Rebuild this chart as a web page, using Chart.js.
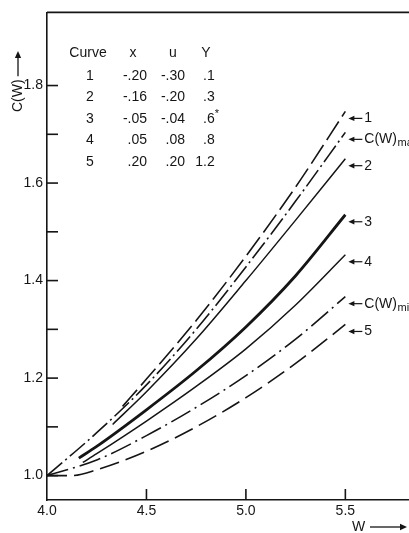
<!DOCTYPE html>
<html>
<head>
<meta charset="utf-8">
<title>C(W) versus W</title>
<script src="https://cdn.jsdelivr.net/npm/chart.js@4.4.1/dist/chart.umd.min.js"></script>
<style>
  html, body { margin: 0; padding: 0; background: #ffffff; }
</style>
</head>
<body>
<canvas id="myChart" width="409" height="533"></canvas>
<script>
"use strict";

/* ****************************************************************************
    DATA
**************************************************************************** */
var curveNames = ["1", "C(W)max", "2", "3", "4", "C(W)min", "5"];

var w1 = [4.38, 4.5, 4.75, 5.0, 5.25, 5.5];
var c1 = [1.142, 1.198, 1.318, 1.45, 1.592, 1.747];

var wMax = [4.0, 4.25, 4.5, 4.75, 5.0, 5.25, 5.5];
var cMax = [1.0, 1.088, 1.186, 1.3, 1.428, 1.563, 1.704];

var w2 = [4.33, 4.5, 4.75, 5.0, 5.25, 5.5];
var c2 = [1.105, 1.172, 1.28, 1.4, 1.524, 1.65];

var w3 = [4.16, 4.25, 4.5, 4.75, 5.0, 5.25, 5.5];
var c3 = [1.036, 1.06, 1.135, 1.215, 1.305, 1.41, 1.535];

var w4 = [4.18, 4.25, 4.5, 4.75, 5.0, 5.25, 5.5];
var c4 = [1.027, 1.045, 1.112, 1.183, 1.26, 1.35, 1.453];

var wMin = [4.0, 4.25, 4.5, 4.75, 5.0, 5.25, 5.5];
var cMin = [1.0, 1.032, 1.082, 1.14, 1.205, 1.28, 1.367];

var w5 = [4.0, 4.12, 4.25, 4.5, 4.75, 5.0, 5.25, 5.5];
var c5 = [1.0, 1.0, 1.012, 1.05, 1.1, 1.16, 1.23, 1.31];

// axis ticks
var xTicks = [4.0, 4.5, 5.0, 5.5];
var yLabelTicks = [1.0, 1.2, 1.4, 1.6, 1.8];
var yMinorTicks = [1.1, 1.3, 1.5, 1.7];

// parameter table in the upper left
var tableHeader = ["Curve", "x", "u", "Y"];
var tableCurve = ["1", "2", "3", "4", "5"];
var tableX = ["-.20", "-.16", "-.05", ".05", ".20"];
var tableU = ["-.30", "-.20", "-.04", ".08", ".20"];
var tableY = [".1", ".3", ".6*", ".8", "1.2"];

/* ****************************************************************************
    STYLE
**************************************************************************** */
var ink = "#151515";
var fontFamily = "'Liberation Sans', Arial, sans-serif";

// one style per curve, same order as curveNames
var curveStyles = [
  { width: 1.6, dash: [22, 6] },
  { width: 1.6, dash: [20, 4, 2, 4] },
  { width: 1.5, dash: [] },
  { width: 2.8, dash: [] },
  { width: 1.5, dash: [] },
  { width: 1.6, dash: [22, 5, 2, 5] },
  { width: 1.6, dash: [20, 7] },
];

/* ****************************************************************************
    HELPERS
**************************************************************************** */

/**
 * Zip W and C arrays into {x, y} points.
 */
function toPoints(ws, cs) {
  return ws.map(function (w, i) {
    return { x: w, y: cs[i] };
  });
}

function strokeLine(ctx, x1, y1, x2, y2) {
  ctx.beginPath();
  ctx.moveTo(x1, y1);
  ctx.lineTo(x2, y2);
  ctx.stroke();
}

function arrowHead(ctx, x, y, angle, size) {
  ctx.save();
  ctx.translate(x, y);
  ctx.rotate(angle);
  ctx.beginPath();
  ctx.moveTo(0, 0);
  ctx.lineTo(-size, -size * 0.45);
  ctx.lineTo(-size, size * 0.45);
  ctx.closePath();
  ctx.fill();
  ctx.restore();
}

/**
 * Draw "C(W)" with an optional subscript ("max" / "min").
 */
function drawName(ctx, name, x, y) {
  var sub = "";
  var main = name;
  if (name.indexOf("C(W)") === 0 && name.length > 4) {
    main = "C(W)";
    sub = name.slice(4);
  }
  ctx.font = "14px " + fontFamily;
  ctx.textAlign = "left";
  ctx.textBaseline = "middle";
  ctx.fillText(main, x, y);
  if (sub) {
    var mw = ctx.measureText(main).width;
    ctx.font = "11px " + fontFamily;
    ctx.fillText(sub, x + mw + 0.5, y + 4);
  }
}

/* ****************************************************************************
    PLUGIN: frame, inward ticks, labels, table
**************************************************************************** */
var paperPlugin = {
  id: "paper",
  afterDraw: function (chart) {
    var ctx = chart.ctx;
    var area = chart.chartArea;
    var xs = chart.scales.x;
    var ys = chart.scales.y;
    var series = [
      [w1, c1], [wMax, cMax], [w2, c2], [w3, c3], [w4, c4], [wMin, cMin], [w5, c5],
    ];

    ctx.save();
    ctx.strokeStyle = ink;
    ctx.fillStyle = ink;
    ctx.lineWidth = 1.6;

    // top edge of the frame
    strokeLine(ctx, area.left, area.top, area.right, area.top);

    // tick marks pointing into the plot
    yLabelTicks.concat(yMinorTicks).forEach(function (v) {
      var py = ys.getPixelForValue(v);
      strokeLine(ctx, area.left, py, area.left + 11, py);
    });
    xTicks.forEach(function (v) {
      if (v === xs.min) return;
      var px = xs.getPixelForValue(v);
      strokeLine(ctx, px, area.bottom, px, area.bottom - 11);
    });

    // curve labels with little arrows at the right ends
    ctx.lineWidth = 1.2;
    series.forEach(function (s, i) {
      var ws = s[0];
      var cs = s[1];
      var px = xs.getPixelForValue(ws[ws.length - 1]);
      var py = ys.getPixelForValue(cs[cs.length - 1]) + 7;
      strokeLine(ctx, px + 6, py, px + 17, py);
      arrowHead(ctx, px + 3, py, Math.PI, 6);
      drawName(ctx, curveNames[i], px + 19, py);
    });

    // y axis title, rotated, with upward arrow
    ctx.save();
    ctx.translate(18, 112);
    ctx.rotate(-Math.PI / 2);
    ctx.font = "14px " + fontFamily;
    ctx.textAlign = "left";
    ctx.textBaseline = "middle";
    ctx.fillText("C(W)", 0, 0);
    var tw = ctx.measureText("C(W)").width;
    ctx.lineWidth = 1.3;
    strokeLine(ctx, tw + 3, 0, 58, 0);
    arrowHead(ctx, 61, 0, 0, 7);
    ctx.restore();

    // x axis title with arrow to the right
    ctx.font = "14px " + fontFamily;
    ctx.textAlign = "left";
    ctx.textBaseline = "middle";
    ctx.fillText("W", 352, 527);
    ctx.lineWidth = 1.3;
    strokeLine(ctx, 370, 527, 401, 527);
    arrowHead(ctx, 407, 527, 0, 7);

    // parameter table
    var rowY = [76, 97.5, 119, 140.5, 162];
    ctx.textBaseline = "middle";
    ctx.font = "14px " + fontFamily;
    ctx.textAlign = "center";
    ctx.fillText(tableHeader[0], 88, 53);
    ctx.fillText(tableHeader[1], 133, 53);
    ctx.fillText(tableHeader[2], 173, 53);
    ctx.fillText(tableHeader[3], 206, 53);
    for (var r = 0; r < tableCurve.length; r++) {
      var y = rowY[r];
      ctx.font = "14px " + fontFamily;
      ctx.textAlign = "center";
      ctx.fillText(tableCurve[r], 90, y);
      ctx.textAlign = "right";
      ctx.fillText(tableX[r], 147, y);
      ctx.fillText(tableU[r], 185, y);
      // Y column aligned on the decimal point, star as superscript
      var txt = tableY[r];
      var star = txt.indexOf("*") >= 0;
      txt = txt.replace("*", "");
      var dot = txt.indexOf(".");
      var lead = ctx.measureText(txt.slice(0, dot)).width;
      ctx.textAlign = "left";
      ctx.fillText(txt, 203 - lead, y);
      if (star) {
        var ww = ctx.measureText(txt).width;
        ctx.font = "11px " + fontFamily;
        ctx.fillText("*", 203 - lead + ww, y - 5);
      }
    }

    ctx.restore();
  },
};

/* ****************************************************************************
    CHART
**************************************************************************** */
function renderChart() {
  Chart.defaults.font.family = fontFamily;
  Chart.defaults.font.size = 14;
  Chart.defaults.color = ink;

  var seriesW = [w1, wMax, w2, w3, w4, wMin, w5];
  var seriesC = [c1, cMax, c2, c3, c4, cMin, c5];
  var datasets = [];
  for (var i = 0; i < curveNames.length; i++) {
    datasets.push({
      label: curveNames[i],
      data: toPoints(seriesW[i], seriesC[i]),
      borderColor: ink,
      borderWidth: curveStyles[i].width,
      borderDash: curveStyles[i].dash,
      pointRadius: 0,
      fill: false,
      cubicInterpolationMode: "monotone",
    });
  }

  var config = {
    type: "line",
    data: { datasets: datasets },
    plugins: [paperPlugin],
    options: {
      responsive: false,
      animation: false,
      layout: { padding: { top: 12, right: 0, left: 0, bottom: 0 } },
      plugins: {
        legend: { display: false },
        tooltip: { enabled: false },
      },
      scales: {
        x: {
          type: "linear",
          min: 4.0,
          max: 5.82,
          afterBuildTicks: function (scale) {
            scale.ticks = xTicks.map(function (v) { return { value: v }; });
          },
          afterFit: function (scale) { scale.height = 33; },
          ticks: {
            padding: 3,
            maxRotation: 0,
            autoSkip: false,
            callback: function (v) { return Number(v).toFixed(1); },
          },
          grid: { display: true, drawOnChartArea: false, drawTicks: false },
          border: { display: true, color: ink, width: 1.6 },
        },
        y: {
          type: "linear",
          min: 0.95,
          max: 1.95,
          afterBuildTicks: function (scale) {
            scale.ticks = yLabelTicks.concat(yMinorTicks).map(function (v) { return { value: v }; });
          },
          afterFit: function (scale) { scale.width = 47; },
          ticks: {
            padding: 4,
            autoSkip: false,
            callback: function (v) {
              return yLabelTicks.indexOf(v) >= 0 ? Number(v).toFixed(1) : "";
            },
          },
          grid: { display: true, drawOnChartArea: false, drawTicks: false },
          border: { display: true, color: ink, width: 1.6 },
        },
      },
    },
  };

  new Chart(document.getElementById("myChart"), config);
}

renderChart();
</script>
</body>
</html>
